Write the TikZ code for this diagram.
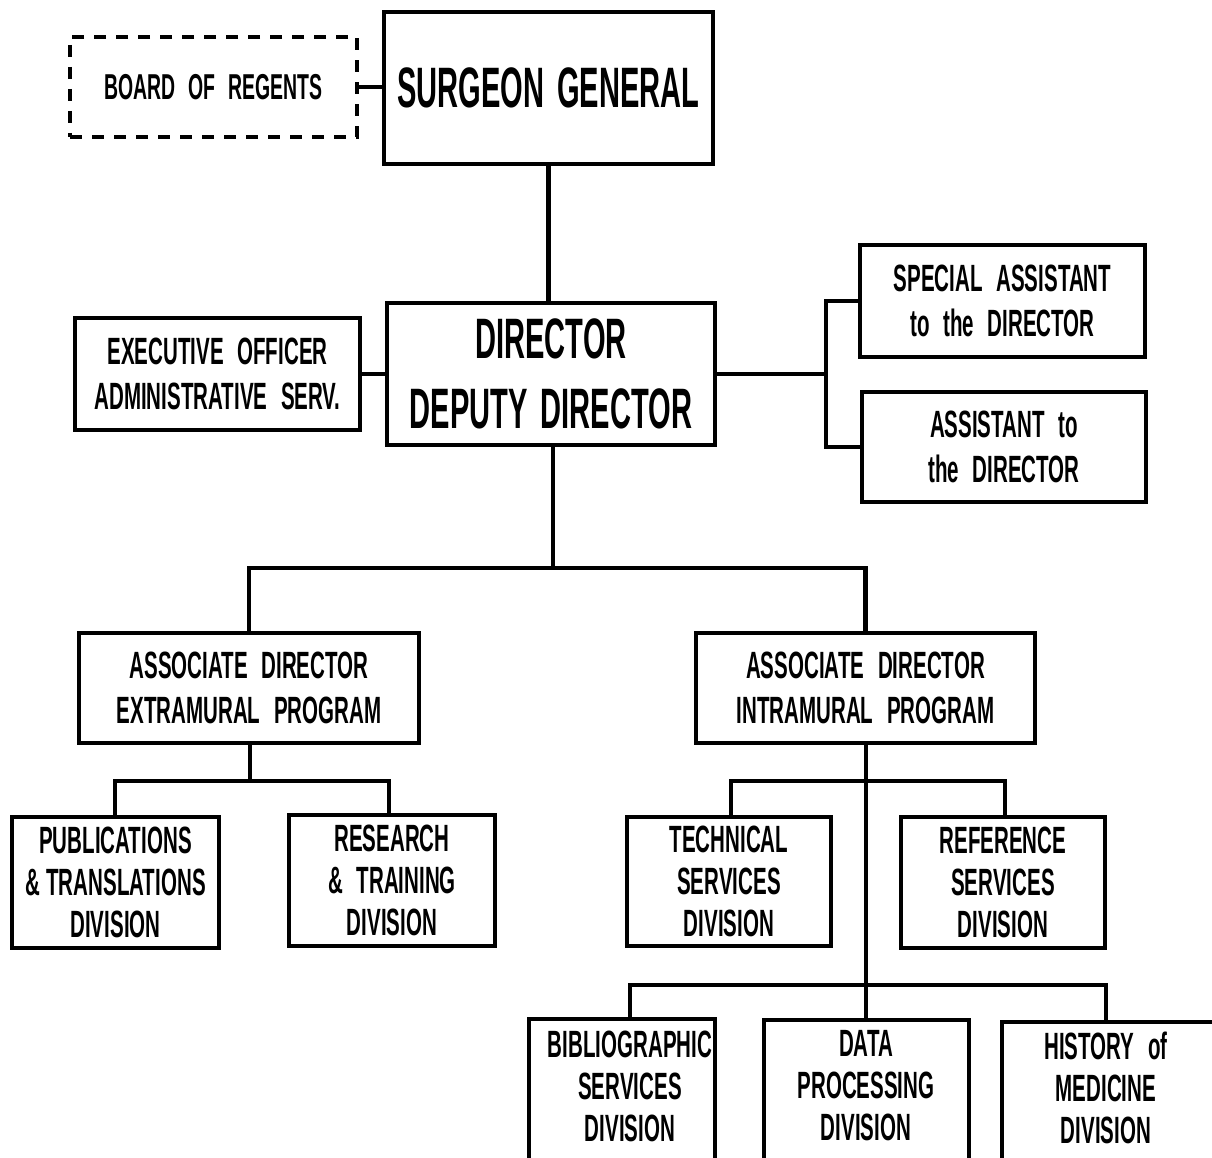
\documentclass[tikz,border=0pt]{standalone}
\usepackage{fontspec}
\newfontfamily\cf{Liberation Sans}[FakeStretch=0.54,WordSpace=2.4]
\newfontfamily\cfbig{Liberation Sans}[FakeStretch=0.51,WordSpace=1.6]
\begin{document}
\begin{tikzpicture}[x=1pt,y=-1pt,
  box/.style={draw, line width=4.5pt, inner sep=0pt, align=center},
  lbl/.style={inner sep=0pt, align=center},
  sm/.style={font=\cf\bfseries\fontsize{38}{45}\selectfont},
  sm3/.style={font=\cf\bfseries\fontsize{38}{42}\selectfont},
  big/.style={font=\cfbig\bfseries\fontsize{57}{70}\selectfont},
  wire/.style={line width=4.5pt}]
\clip (0,0) rectangle (1212,1158);
\fill[white] (0,0) rectangle (1212,1158);
% top
\node[box, dashed, dash pattern=on 12pt off 10pt, line width=4pt, minimum width=287, minimum height=100,
      font=\cf\bfseries\fontsize{36}{40}\selectfont] (board) at (213.5,87) {BOARD OF REGENTS};
\node[box, big, minimum width=329, minimum height=152] (sg) at (548.5,88) {SURGEON GENERAL};
\node[box, big, minimum width=328, minimum height=142] (dir) at (551,374) {DIRECTOR\\DEPUTY DIRECTOR};
\node[box, sm, minimum width=285, minimum height=112] (exec) at (217.5,374) {EXECUTIVE OFFICER\\ADMINISTRATIVE SERV.};
\node[box, sm, minimum width=285, minimum height=112] (spec) at (1002.5,301) {SPECIAL ASSISTANT\\to the DIRECTOR};
\node[box, sm, minimum width=284, minimum height=110] (asst) at (1004,447) {ASSISTANT to\\the DIRECTOR};
% associates
\node[box, sm, minimum width=340, minimum height=110] (ext) at (249,688) {ASSOCIATE DIRECTOR\\EXTRAMURAL PROGRAM};
\node[box, sm, minimum width=339, minimum height=110] (int) at (865.5,688) {ASSOCIATE DIRECTOR\\INTRAMURAL PROGRAM};
% divisions
\node[box, sm3, minimum width=207, minimum height=131] (pub) at (115.5,882.5) {PUBLICATIONS\\\&\,TRANSLATIONS\\DIVISION};
\node[box, sm3, minimum width=206, minimum height=131] (res) at (392,880.5) {RESEARCH\\\& TRAINING\\DIVISION};
\node[box, sm3, minimum width=204, minimum height=129] (tech) at (729,881.5) {TECHNICAL\\SERVICES\\DIVISION};
\node[box, sm3, minimum width=204, minimum height=131] (ref) at (1003,882.5) {REFERENCE\\SERVICES\\DIVISION};
% bottom row (cut off by the page edge)
\node[box, minimum width=186, minimum height=181] (bib) at (622,1109.5) {};
\node[box, minimum width=205, minimum height=180] (data) at (866.5,1110) {};
\node[box, minimum width=214, minimum height=178] (hist) at (1109,1111) {};
\node[lbl, sm3] (bibt) at (630,1086) {BIBLIOGRAPHIC\\SERVICES\\DIVISION};
\node[lbl, sm3] (datat) at (866,1086) {DATA\\PROCESSING\\DIVISION};
\node[lbl, sm3] (histt) at (1106,1088) {HISTORY of\\MEDICINE\\DIVISION};
% junctions
\coordinate (rj) at (826,374);
\coordinate (b1) at (553,568);
\coordinate (b2) at (250,781);
\coordinate (b3) at (866,781);
\coordinate (b4) at (866,985);
% connectors
\draw[wire] (board.east) -- (board.east -| sg.west);
\draw[wire] (sg.south) -- (sg.south |- dir.north);
\draw[wire] (exec.east) -- (dir.west);
\draw[wire] (dir.east) -- (rj);
\draw[wire] (spec.west) -| (rj) |- (asst.west);
\draw[wire] (dir.south -| b1) -- (b1);
\draw[wire] (ext.north) |- (b1) -| (int.north);
\draw[wire] (ext.south -| b2) -- (b2);
\draw[wire] (pub.north -| 115,0) |- (b2) -| (res.north -| 389,0);
\draw[wire] (int.south -| b3) -- (b3 |- data.north);
\draw[wire] (tech.north -| 731,0) |- (b3) -| (ref.north -| 1005,0);
\draw[wire] (bib.north -| 630,0) |- (b4) -| (hist.north -| 1106,0);
\end{tikzpicture}
\end{document}
